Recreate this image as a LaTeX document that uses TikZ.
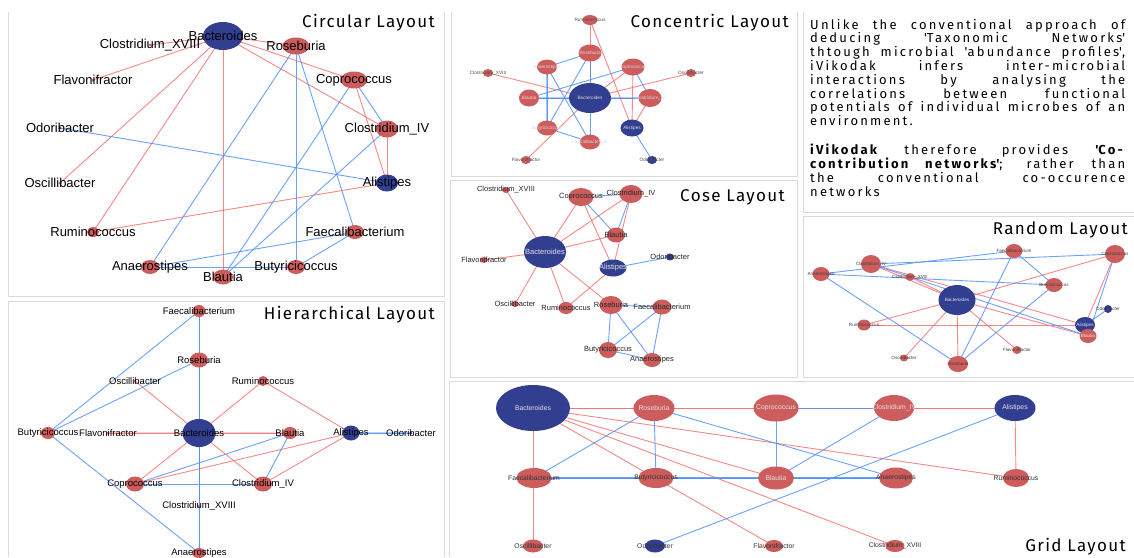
\documentclass[tikz,border=0pt]{standalone}
\usepackage{fontspec}
\setmainfont{Liberation Sans}
\newfontfamily\txtfont{Fira Sans}[LetterSpace=17]
\newfontfamily\ttlfont{Fira Sans}[LetterSpace=8]
\usetikzlibrary{shapes.geometric}
\pgfdeclarelayer{bg}
\pgfsetlayers{bg,main}
\definecolor{nred}{RGB}{205,92,92}
\definecolor{nblue}{RGB}{50,63,145}
\definecolor{ered}{RGB}{245,115,115}
\definecolor{eblue}{RGB}{80,145,250}
\definecolor{pan}{RGB}{218,218,218}
\def\nmBac{Bacteroides}
\def\nmRos{Roseburia}
\def\nmCop{Coprococcus}
\def\nmCIV{Clostridium\_IV}
\def\nmAli{Alistipes}
\def\nmFae{Faecalibacterium}
\def\nmBut{Butyricicoccus}
\def\nmBla{Blautia}
\def\nmAna{Anaerostipes}
\def\nmRum{Ruminococcus}
\def\nmOsc{Oscillibacter}
\def\nmOdo{Odoribacter}
\def\nmFla{Flavonifractor}
\def\nmCXV{Clostridium\_XVIII}
\def\edgesR{Bac/Ros, Bac/Cop, Bac/CIV, Bac/Bla, Bac/Rum, Bac/Osc, Bac/Fla, Bac/CXV, Cop/Ali, CIV/Ali, Rum/Ali}
\def\edgesB{Odo/Ali, Cop/CIV, Cop/Bla, CIV/Bla, Ros/Fae, Ros/But, Ros/Ana, Fae/But, Fae/Ana, But/Ana}
\tikzset{
  nd/.style={ellipse, inner sep=0pt, draw=none},
  er/.style={draw=ered, line width=0.9pt, draw opacity=0.85},
  eb/.style={draw=eblue, line width=0.9pt, draw opacity=0.85},
  panel/.style={draw=pan, line width=1pt},
  ttl/.style={anchor=base east, inner sep=0pt, font=\ttlfont\fontsize{17}{17}\selectfont},
  para/.style={anchor=base west, inner sep=0pt, font=\txtfont\fontsize{13}{14}\selectfont},
  labC/.style={inner sep=0pt, font=\fontsize{13}{13}\selectfont},
  labH/.style={inner sep=0pt, font=\fontsize{9.5}{9.5}\selectfont},
  labK/.style={inner sep=0pt, font=\fontsize{4.7}{4.7}\selectfont},
  labS/.style={inner sep=0pt, font=\fontsize{7.5}{7.5}\selectfont},
  labR/.style={inner sep=0pt, font=\fontsize{4.6}{4.6}\selectfont},
  labG/.style={inner sep=0pt, font=\fontsize{6.8}{6.8}\selectfont},
}
\newcommand\drawlayout[3]{%
  \foreach \nk/\nx/\ny/\nw/\nh/\nc/\nt in #3 {%
    \node[nd, fill=\nc, minimum width=\nw pt, minimum height=\nh pt] (#1\nk) at (\nx,\ny) {};}
  \begin{pgfonlayer}{bg}
  \foreach \ea/\eb in \edgesR {\draw[er] (#1\ea.center) -- (#1\eb.center);}
  \foreach \ea/\eb in \edgesB {\draw[eb] (#1\ea.center) -- (#1\eb.center);}
  \end{pgfonlayer}
  \foreach \nk/\nx/\ny/\nw/\nh/\nc/\nt in #3 {%
    \node[#2, text=\nt] at (#1\nk) {\csname nm\nk\endcsname};}
}
\def\Lc{Bac/223/36/40/28/nblue/black, Ros/296/46/27/17/nred/black, Cop/354/80/27/17/nred/black, CIV/387/129/22/17/nred/black, Ali/387/183/22/17/nblue/black, Fae/355/232/18/14/nred/black, But/296/267/18/14/nred/black, Bla/223/277/20/15/nred/black, Ana/150/267/18/14/nred/black, Rum/93/232/12/10/nred/black, Osc/60/183/3/3/nred/black, Odo/60/128/3/3/nblue/black, Fla/93/80/3/3/nred/black, CXV/150/45/3/3/nred/black}
\def\Lh{Fae/199/311/13/12/nred/black, Ros/199/360/18/15/nred/black, Osc/135/381/3/3/nred/black, Rum/263/381/10/10/nred/black, But/48/433/14/12/nred/black, Fla/108/433/3/3/nred/black, Bac/199/433/33/28/nblue/black, Bla/290/433/14/12/nred/black, Ali/351/433/17/15/nblue/black, Odo/411/433/3/3/nblue/black, Cop/135/484/18/15/nred/black, CIV/263/484/18/15/nred/black, CXV/199/506/3/3/nred/black, Ana/199/553/14/10/nred/black}
\def\Lk{Rum/590/20/15/10/nred/black!70, Ros/590/53/23/17/nred/white!85!black, Ana/547/67/20/15/nred/white!85!black, Cop/633/67/23/17/nred/white!85!black, CXV/488/73/10/8/nred/black!70, Osc/691/73/10/8/nred/black!70, Bla/529/98/20/17/nred/white!85!black, Bac/590/98/42/30/nblue/white!85!black, CIV/650/98/23/18/nred/white!85!black, But/547/128/20/15/nred/white!85!black, Fae/590/142/20/15/nred/white!85!black, Ali/632/128/23/17/nblue/white!85!black, Fla/526/160/10/8/nred/black!70, Odo/652/160/10/8/nblue/black!70}
\def\Ls{Bac/545/252/42/32/nblue/white!90!black, CXV/506/190/8/6/nred/black!85, Cop/581/197/25/18/nred/black!85, CIV/631/194/23/18/nred/black!85, Bla/616/235/18/15/nred/black!85, Odo/670/257/8/7/nblue/black!85, Ali/613/268/27/17/nblue/white!90!black, Fla/484/260/8/6/nred/black!85, Osc/515/304/8/6/nred/black!85, Rum/566/308/15/12/nred/black!85, Ros/611/305/23/18/nred/black!85, Fae/662/307/19/15/nred/black!85, But/608/350/18/16/nred/black!85, Ana/652/360/18/14/nred/black!85}
\def\Lr{Fae/1014/251/17/14/nred/black!75, Cop/1115/254/20/18/nred/black!75, CIV/871/264/20/18/nred/black!75, Ana/821/274/17/14/nred/black!75, CXV/910/277/9/8/nred/black!75, But/1054/285/17/14/nred/black!75, Bac/957/300/37/30/nblue/white!90!black, Odo/1108/309/8/8/nblue/black!75, Rum/864/325/13/11/nred/black!75, Ali/1085/325/20/16/nblue/white!90!black, Bla/1088/336/17/14/nred/white!90!black, Fla/1017/350/9/8/nred/black!75, Osc/904/358/8/7/nred/black!75, Ros/958/364/20/16/nred/black!75}
\def\Lg{Bac/533/408/74/46/nblue/white!90!black, Ros/654/408/41/26/nred/white!90!black, Cop/776/408/45/27/nred/white!90!black, CIV/894/408/40/26/nred/white!90!black, Ali/1015/408/41/26/nblue/white!90!black, Fae/534/478/35/20/nred/black!80, But/656/478/35/20/nred/black!80, Bla/776/478/36/23/nred/white!90!black, Ana/896/478/34/21/nred/black!80, Rum/1016/478/26/18/nred/black!80, Osc/533/546/20/13/nred/black!80, Odo/655/546/20/13/nblue/black!80, Fla/774/546/18/12/nred/black!80, CXV/895/546/19/12/nred/black!80}
\begin{document}
\begin{tikzpicture}[x=1pt,y=-1pt]
\useasboundingbox (0,0) rectangle (1134,557);
% panels
\draw[panel] (8,12) -- (8,296) -- (444,296) -- (444,12);
\draw[panel] (8,557) -- (8,301) -- (444,301) -- (444,557);
\draw[panel] (451,12) -- (451,176) -- (797,176) -- (797,12);
\draw[panel] (450,180) rectangle (797,377);
\draw[panel] (803,12) -- (803,212) -- (1134,212);
\draw[panel] (1134,216) -- (803,216) -- (803,377) -- (1134,377);
\draw[panel] (449,557) -- (449,381) -- (1134,381);
% titles
\node[ttl] (tc) at (435,27) {Circular Layout};
\node[ttl] (th) at (435,319) {Hierarchical Layout};
\node[ttl] (tk) at (789,27) {Concentric Layout};
\node[ttl] (ts) at (785,201) {Cose Layout};
\node[ttl] (tr) at (1128,234) {Random Layout};
\node[ttl] (tg) at (1126,551) {Grid Layout};
% layouts
\drawlayout{c}{labC}{\Lc}
\drawlayout{h}{labH}{\Lh}
\drawlayout{k}{labK}{\Lk}
\drawlayout{s}{labS}{\Ls}
\drawlayout{r}{labR}{\Lr}
\drawlayout{g}{labG}{\Lg}
\begin{pgfonlayer}{bg}
\draw[eb, line width=2.2pt] (gFae.center) -- (gAna.center);
\draw[eb, line width=2.6pt, draw opacity=0.45] (kBla.center) -- (kCIV.center);
\draw[eb, line width=2.2pt, draw opacity=0.5] (kAna.center) -- (kBut.center);
\draw[er, line width=2.6pt, draw opacity=0.35] (hFla.center) -- (hBac.center);
\draw[er, line width=2.6pt, draw opacity=0.35] (hBac.center) -- (hBla.center);
\draw[eb, line width=2.6pt, draw opacity=0.4] (hAli.center) -- (hOdo.center);
\end{pgfonlayer}
% text
\node[para] (t1) at (810,29) {\makebox[315pt][s]{Unlike the conventional approach of}};
\node[para] (t2) at (810,42.8) {\makebox[315pt][s]{deducing \textquotesingle Taxonomic Networks\textquotesingle}};
\node[para] (t3) at (810,56.6) {\makebox[315pt][s]{thtough microbial \textquotesingle abundance profiles\textquotesingle,}};
\node[para] (t4) at (810,70.4) {\makebox[315pt][s]{iVikodak infers inter-microbial}};
\node[para] (t5) at (810,84.2) {\makebox[315pt][s]{interactions by analysing the}};
\node[para] (t6) at (810,98) {\makebox[315pt][s]{correlations between functional}};
\node[para] (t7) at (810,111.8) {\makebox[315pt][s]{potentials of individual microbes of an}};
\node[para] (t8) at (810,125.6) {environment.};
\node[para] (t9) at (810,154) {\makebox[315pt][s]{\textbf{iVikodak} therefore provides \textbf{\textquotesingle Co-}}};
\node[para] (t10) at (810,168) {\makebox[315pt][s]{\textbf{contribution networks\textquotesingle}; rather than}};
\node[para] (t11) at (810,182) {\makebox[315pt][s]{the conventional co-occurence}};
\node[para] (t12) at (810,196.5) {networks};
\end{tikzpicture}
\end{document}
